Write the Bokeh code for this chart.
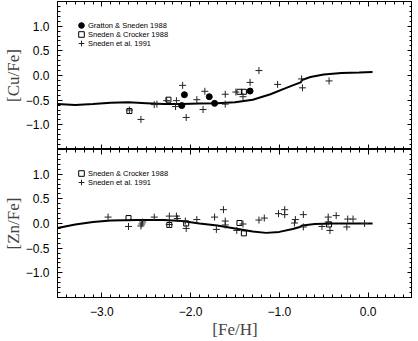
from bokeh.plotting import figure
from bokeh.models import (Range1d, LinearAxis, FixedTicker, CustomJSTickFormatter,
                          Legend, LegendItem)
from bokeh.layouts import column
from bokeh.embed import file_html
from bokeh.resources import INLINE

# ---------------- data ----------------
# model curves
feh_model_cu = [-3.5, -3.3, -3.1, -2.9, -2.7, -2.5, -2.3, -2.1, -1.9, -1.7, -1.5, -1.3,
                -1.1, -0.95, -0.85, -0.76, -0.745, -0.65, -0.5, -0.3, -0.1, 0.05]
cu_model = [-0.58, -0.60, -0.58, -0.55, -0.54, -0.56, -0.58, -0.58, -0.57, -0.56, -0.54, -0.49,
            -0.38, -0.27, -0.20, -0.14, -0.09, -0.03, 0.02, 0.05, 0.06, 0.07]

feh_model_zn = [-3.5, -3.3, -3.1, -2.9, -2.6, -2.3, -2.1, -1.9, -1.7, -1.5, -1.3, -1.15,
                -1.0, -0.85, -0.77, -0.74, -0.6, -0.4, -0.2, 0.05]
zn_model = [-0.09, -0.02, 0.03, 0.06, 0.07, 0.07, 0.05, 0.00, -0.04, -0.10, -0.16, -0.19,
            -0.17, -0.11, -0.07, -0.04, -0.01, 0.00, 0.00, 0.00]

# Gratton & Sneden 1988 (Cu)
gs88_feh = [-2.07, -1.79, -2.10, -1.73, -1.33]
gs88_cu = [-0.39, -0.43, -0.61, -0.565, -0.315]

# Sneden & Crocker 1988 (Cu)
sc88_feh_cu = [-2.69, -2.25, -1.45, -1.40]
sc88_cu = [-0.72, -0.49, -0.33, -0.33]

# Sneden et al. 1991 (Cu)
s91_feh_cu = [-2.69, -2.56, -2.41, -2.38, -2.27, -2.16, -2.17, -2.09, -2.05, -1.93, -1.84,
              -1.86, -1.61, -1.61, -1.49, -1.41, -1.33, -1.23, -1.02, -0.75, -0.74, -0.44]
s91_cu = [-0.70, -0.89, -0.59, -0.58, -0.51, -0.51, -0.63, -0.20, -0.85, -0.49, -0.32,
          -0.69, -0.38, -0.58, -0.335, -0.43, -0.14, 0.10, -0.18, -0.07, -0.25, -0.11]

# Sneden & Crocker 1988 (Zn)
sc88_feh_zn = [-2.70, -2.24, -2.05, -1.45, -1.40, -0.44]
sc88_zn = [0.11, -0.03, 0.00, 0.01, -0.20, -0.02]

# Sneden et al. 1991 (Zn)
s91_feh_zn = [-2.93, -2.70, -2.56, -2.55, -2.54, -2.41, -2.24, -2.24, -2.16, -2.15, -2.06,
              -2.05, -1.93, -1.73, -1.71, -1.63, -1.61, -1.61, -1.41, -1.48, -1.23, -1.17,
              -1.01, -0.94, -0.94, -0.82, -0.83, -0.73, -0.73, -0.52, -0.45, -0.45, -0.43,
              -0.36, -0.23, -0.17, -0.24, -0.04]
s91_zn = [0.13, -0.06, -0.05, -0.01, 0.03, 0.13, -0.02, 0.15, 0.15, 0.10, 0.05,
          -0.10, 0.08, 0.13, -0.12, 0.28, 0.05, -0.03, -0.01, -0.14, 0.07, 0.11,
          0.20, 0.28, 0.18, 0.08, 0.01, 0.18, -0.07, -0.06, 0.13, 0.03, -0.14,
          0.16, 0.09, 0.09, -0.07, 0.00]

x_major = [-3.0, -2.0, -1.0, 0.0]
y_major = [-1.0, -0.5, 0.0, 0.5, 1.0]

legend_cu = ["Gratton & Sneden 1988", "Sneden & Crocker 1988", "Sneden et al. 1991"]
legend_zn = ["Sneden & Crocker 1988", "Sneden et al. 1991"]

# ---------------- styling helpers ----------------
FRAME_W = 355
FRAME_H = 148
GLYPH = 14
ROW = 9
x_minor = [round(-3.5 + 0.1 * i, 2) for i in range(41)]
y_minor = [round(-1.5 + 0.1 * i, 2) for i in range(31)]
fmt_code = "return (tick < 0 ? '\u2212' : '') + Math.abs(tick).toFixed(1);"


def style_axis(ax, labels=True):
    ax.major_tick_in = 5
    ax.major_tick_out = 0
    ax.minor_tick_in = 3
    ax.minor_tick_out = 0
    ax.axis_line_color = "black"
    ax.major_tick_line_color = "black"
    ax.minor_tick_line_color = "black"
    if labels:
        ax.major_label_text_font = "Liberation Sans"
        ax.major_label_text_font_size = "12px"
        ax.major_label_text_color = "black"
        ax.formatter = CustomJSTickFormatter(code=fmt_code)
    else:
        ax.major_label_text_font_size = "1px"
        ax.major_label_text_color = None
        ax.major_label_standoff = 0


def make_panel(ylabel, show_x, top_border, bottom_border):
    p = figure(frame_width=FRAME_W, frame_height=FRAME_H,
               x_range=Range1d(-3.5, 0.5), y_range=Range1d(-1.5, 1.5),
               output_backend="svg", toolbar_location=None,
               min_border_left=54, min_border_right=0,
               min_border_top=top_border, min_border_bottom=bottom_border,
               background_fill_color="white", border_fill_color="white")
    p.grid.grid_line_color = None
    p.outline_line_color = "black"

    xt = FixedTicker(ticks=x_major, minor_ticks=x_minor)
    yt = FixedTicker(ticks=y_major, minor_ticks=y_minor)

    xa = p.xaxis[0]
    xa.ticker = xt
    style_axis(xa, labels=show_x)
    if show_x:
        xa.major_label_standoff = 9
        xa.axis_label = "[Fe/H]"
        xa.axis_label_text_font = "Liberation Serif"
        xa.axis_label_text_font_size = "17px"
        xa.axis_label_text_font_style = "normal"
        xa.axis_label_standoff = 1

    ya = p.yaxis[0]
    ya.ticker = yt
    style_axis(ya, labels=True)
    ya.major_label_standoff = 8
    ya.axis_label = ylabel
    ya.axis_label_text_font = "Liberation Serif"
    ya.axis_label_text_font_size = "17px"
    ya.axis_label_text_font_style = "normal"
    ya.axis_label_standoff = 0

    ra = LinearAxis(ticker=yt)
    style_axis(ra, labels=False)
    p.add_layout(ra, "right")
    ta = LinearAxis(ticker=xt)
    style_axis(ta, labels=False)
    p.add_layout(ta, "above")
    return p


def add_legend_rows(p, labels, renderers):
    # one single-row legend per entry, stacked ROW pixels apart
    top_center = FRAME_H - 24  # first row centre, pixels above frame bottom
    for i, (lab, r) in enumerate(zip(labels, renderers)):
        cy = top_center - i * ROW
        lg = Legend(items=[LegendItem(label=lab, renderers=[r])],
                    location=(24 - GLYPH // 2, int(round(cy - GLYPH / 2))),
                    margin=0, padding=0,
                    glyph_width=GLYPH, glyph_height=GLYPH, label_height=GLYPH,
                    spacing=0, label_standoff=-4,
                    label_text_font="Liberation Sans", label_text_font_size="7.5px",
                    label_text_color="black",
                    border_line_color=None, background_fill_alpha=0)
        p.add_layout(lg)


# ---------------- top panel: Cu ----------------
p1 = make_panel("[Cu/Fe]", show_x=False, top_border=1, bottom_border=0)
p1.line(feh_model_cu, cu_model, line_width=2, line_color="black")
r_gs = p1.scatter(gs88_feh, gs88_cu, marker="circle", size=6,
                  fill_color="black", line_color="black")
r_sc = p1.scatter(sc88_feh_cu, sc88_cu, marker="square", size=5,
                  fill_color=None, line_color="black", line_width=1)
r_s91 = p1.scatter(s91_feh_cu, s91_cu, marker="cross", size=7,
                   line_color="#222222", line_width=1)
add_legend_rows(p1, legend_cu, [r_gs, r_sc, r_s91])

# ---------------- bottom panel: Zn ----------------
p2 = make_panel("[Zn/Fe]", show_x=True, top_border=0, bottom_border=0)
p2.line(feh_model_zn, zn_model, line_width=2, line_color="black")
r_sc2 = p2.scatter(sc88_feh_zn, sc88_zn, marker="square", size=5,
                   fill_color=None, line_color="black", line_width=1)
r_s912 = p2.scatter(s91_feh_zn, s91_zn, marker="cross", size=7,
                    line_color="#222222", line_width=1)
add_legend_rows(p2, legend_zn, [r_sc2, r_s912])

layout = column(p1, p2, spacing=0)

with open("out.html", "w", encoding="utf-8") as f:
    f.write(file_html(layout, INLINE))
